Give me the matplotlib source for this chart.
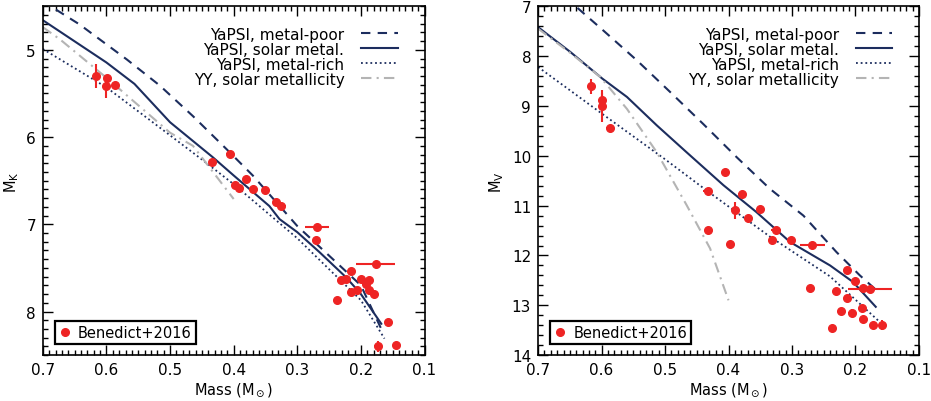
import numpy as np
import matplotlib
matplotlib.use("Agg")
import matplotlib.pyplot as plt
from matplotlib.ticker import MultipleLocator

plt.rcParams['font.family'] = ['DejaVu Sans']
plt.rcParams['mathtext.default'] = 'regular'

navy = '#1c2d5e'
red = '#ee2424'
grey = '#b4b4b4'

# ---- left panel: M_K vs mass ----
# YaPSI / YY model tracks (mass, M_K)
k_poor_m = [0.70, 0.679, 0.642, 0.568, 0.516, 0.464, 0.411, 0.370, 0.300, 0.244, 0.200, 0.168]
k_poor_y = [4.42, 4.54, 4.71, 5.11, 5.41, 5.76, 6.14, 6.44, 7.02, 7.40, 7.70, 8.20]
k_sol_m = [0.70, 0.60, 0.556, 0.50, 0.433, 0.40, 0.344, 0.328, 0.30, 0.265, 0.223, 0.20, 0.168]
k_sol_y = [4.66, 5.145, 5.39, 5.83, 6.23, 6.44, 6.79, 6.94, 7.09, 7.32, 7.61, 7.80, 8.14]
k_rich_m = [0.70, 0.60, 0.50, 0.453, 0.40, 0.30, 0.20, 0.163]
k_rich_y = [4.99, 5.43, 5.98, 6.24, 6.54, 7.16, 7.87, 8.31]
k_yy_m = [0.70, 0.673, 0.60, 0.50, 0.464, 0.40]
k_yy_y = [4.74, 4.88, 5.32, 5.95, 6.10, 6.71]

# Benedict+2016 points
k_obs_m = [0.616, 0.599, 0.601, 0.586, 0.434, 0.406, 0.398, 0.391, 0.380, 0.370,
           0.350, 0.333, 0.325, 0.269, 0.270, 0.238, 0.232, 0.223, 0.215, 0.215,
           0.206, 0.200, 0.192, 0.187, 0.188, 0.180, 0.177, 0.158, 0.173, 0.145]
k_obs_y = [5.30, 5.32, 5.42, 5.40, 6.29, 6.19, 6.55, 6.58, 6.48, 6.59,
           6.61, 6.74, 6.79, 7.03, 7.18, 7.87, 7.64, 7.63, 7.53, 7.78,
           7.75, 7.63, 7.68, 7.64, 7.75, 7.80, 7.45, 8.12, 8.40, 8.38]
k_obs_xerr = [0.0, 0.0, 0.0, 0.006, 0.0, 0.006, 0.0, 0.0, 0.0, 0.0,
              0.0, 0.0, 0.008, 0.019, 0.0, 0.0, 0.0, 0.0, 0.0, 0.0,
              0.0, 0.0, 0.0, 0.0, 0.0, 0.0, 0.030, 0.0, 0.006, 0.0]
k_obs_yerr = [0.14, 0.03, 0.13, 0.0, 0.0, 0.0, 0.0, 0.0, 0.0, 0.0,
              0.0, 0.0, 0.0, 0.0, 0.0, 0.0, 0.0, 0.0, 0.0, 0.0,
              0.0, 0.0, 0.0, 0.0, 0.0, 0.0, 0.0, 0.0, 0.06, 0.0]

# ---- right panel: M_V vs mass ----
v_poor_m = [0.70, 0.641, 0.597, 0.544, 0.492, 0.440, 0.387, 0.335, 0.282, 0.230, 0.193, 0.164]
v_poor_y = [6.55, 7.00, 7.49, 8.09, 8.72, 9.36, 10.03, 10.66, 11.20, 11.93, 12.40, 12.73]
v_sol_m = [0.70, 0.649, 0.599, 0.560, 0.513, 0.466, 0.408, 0.356, 0.303, 0.240, 0.204, 0.168]
v_sol_y = [7.42, 7.92, 8.45, 8.82, 9.39, 9.93, 10.59, 11.13, 11.73, 12.20, 12.53, 13.03]
v_rich_m = [0.70, 0.60, 0.50, 0.432, 0.335, 0.24, 0.162]
v_rich_y = [8.22, 9.15, 10.07, 10.72, 11.62, 12.42, 13.33]
v_yy_m = [0.70, 0.649, 0.602, 0.560, 0.513, 0.466, 0.429, 0.400]
v_yy_y = [7.45, 7.94, 8.42, 9.06, 9.93, 10.99, 11.86, 12.90]

v_obs_m = [0.617, 0.600, 0.599, 0.587, 0.433, 0.433, 0.405, 0.398, 0.390, 0.379,
           0.370, 0.350, 0.332, 0.325, 0.302, 0.268, 0.271, 0.237, 0.231, 0.223,
           0.214, 0.214, 0.205, 0.200, 0.190, 0.188, 0.188, 0.177, 0.172, 0.158]
v_obs_y = [8.61, 8.89, 9.00, 9.44, 10.70, 11.49, 10.32, 11.76, 11.09, 10.77,
           11.25, 11.07, 11.69, 11.48, 11.69, 11.78, 12.66, 13.45, 12.71, 13.11,
           12.30, 12.85, 13.15, 12.52, 13.05, 12.66, 13.28, 12.68, 13.39, 13.39]
v_obs_xerr = [0.0, 0.0, 0.0, 0.006, 0.007, 0.0, 0.006, 0.0, 0.0, 0.006,
              0.0, 0.0, 0.0, 0.008, 0.0, 0.020, 0.0, 0.0, 0.0, 0.0,
              0.0, 0.0, 0.006, 0.0, 0.0, 0.0, 0.0, 0.035, 0.0, 0.0]
v_obs_yerr = [0.16, 0.15, 0.32, 0.0, 0.0, 0.0, 0.0, 0.0, 0.17, 0.0,
              0.0, 0.0, 0.0, 0.0, 0.0, 0.0, 0.0, 0.0, 0.0, 0.0,
              0.0, 0.0, 0.08, 0.0, 0.0, 0.0, 0.0, 0.0, 0.0, 0.10]

model_labels = ['YaPSI, metal-poor', 'YaPSI, solar metal.', 'YaPSI, metal-rich', 'YY, solar metallicity']


def draw_panel(ax, tracks, obs, ylim, ymajor, yminor, ylabel):
    (pm, py), (sm, sy), (rm, ry), (ym, yy) = tracks
    l1, = ax.plot(pm, py, color=navy, lw=1.5, ls=(0, (4.5, 3.5)))
    l2, = ax.plot(sm, sy, color=navy, lw=1.5, ls='-')
    l3, = ax.plot(rm, ry, color=navy, lw=1.3, ls=(0, (1, 1.6)))
    l4, = ax.plot(ym, yy, color=grey, lw=1.5, ls=(0, (5, 2.5, 1, 2.5)))
    om, oy, oxe, oye = obs
    ax.errorbar(om, oy, xerr=oxe, yerr=oye, fmt='none', ecolor=red, elinewidth=1.5, capsize=0)
    pts, = ax.plot(om, oy, 'o', color=red, ms=5.5, mec=red, ls='none')

    ax.set_xlim(0.7, 0.1)
    ax.set_ylim(*ylim)
    ax.xaxis.set_major_locator(MultipleLocator(0.1))
    ax.xaxis.set_minor_locator(MultipleLocator(0.01))
    ax.yaxis.set_major_locator(MultipleLocator(ymajor))
    ax.yaxis.set_minor_locator(MultipleLocator(yminor))
    ax.set_xticks(np.arange(0.7, 0.09, -0.1))
    ax.set_xticklabels(['0.7', '0.6', '0.5', '0.4', '0.3', '0.2', '0.1'])
    ax.tick_params(which='both', direction='in', top=True, right=True, width=1, labelsize=11)
    ax.tick_params(which='major', length=7, pad=5)
    ax.tick_params(which='minor', length=3.5)
    for s in ax.spines.values():
        s.set_linewidth(1.2)
    ax.set_xlabel(r'Mass (M$_\odot$)', fontsize=10.5, labelpad=2)
    ax.set_ylabel(ylabel, fontsize=10.5)

    leg1 = ax.legend([l1, l2, l3, l4], model_labels, loc='upper right', frameon=False,
                     markerfirst=False, fontsize=11, handlelength=2.4, handletextpad=1.1,
                     labelspacing=0.0, borderaxespad=0.6, bbox_to_anchor=(0.97, 0.985))
    ax.add_artist(leg1)
    leg2 = ax.legend([pts], ['Benedict+2016'], loc='lower left', fontsize=10.5, fancybox=False,
                     edgecolor='black', framealpha=1, handlelength=0.8, handletextpad=0.5,
                     borderpad=0.3, borderaxespad=0.5, bbox_to_anchor=(0.012, 0.01))
    leg2.get_frame().set_linewidth(1.6)
    return ax


fig = plt.figure(figsize=(9.31, 4.02), dpi=100)
ax1 = fig.add_axes([0.046, 0.114, 0.410, 0.868])
ax2 = fig.add_axes([0.578, 0.114, 0.409, 0.868])

draw_panel(ax1,
           [(k_poor_m, k_poor_y), (k_sol_m, k_sol_y), (k_rich_m, k_rich_y), (k_yy_m, k_yy_y)],
           (k_obs_m, k_obs_y, k_obs_xerr, k_obs_yerr),
           (8.5, 4.5), 1, 0.1, r'M$_K$')
draw_panel(ax2,
           [(v_poor_m, v_poor_y), (v_sol_m, v_sol_y), (v_rich_m, v_rich_y), (v_yy_m, v_yy_y)],
           (v_obs_m, v_obs_y, v_obs_xerr, v_obs_yerr),
           (14, 7), 1, 0.2, r'M$_V$')

fig.savefig('out.png', dpi=100)
